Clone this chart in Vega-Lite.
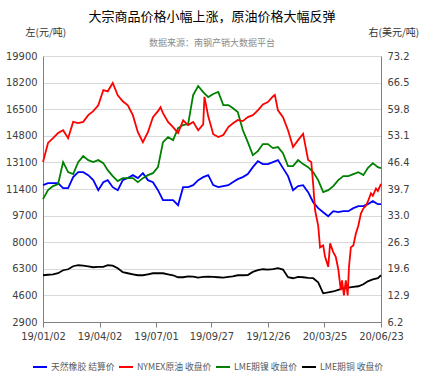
{
  "$schema": "https://vega.github.io/schema/vega-lite/v6.json",
  "width": 338,
  "height": 266,
  "autosize": {"type": "none"},
  "padding": {"left": 43, "top": 56, "right": 42, "bottom": 56},
  "background": "white",
  "title": {
    "text": "大宗商品价格小幅上涨，原油价格大幅反弹",
    "subtitle": "数据来源：南钢产销大数据平台",
    "font": "Noto Sans CJK SC",
    "fontSize": 13,
    "fontWeight": "normal",
    "color": "#000000",
    "subtitleFont": "Noto Sans CJK SC",
    "subtitleFontSize": 9,
    "subtitleColor": "#8c8c8c",
    "subtitlePadding": 15,
    "anchor": "middle",
    "offset": -21
  },
  "datasets": {
    "left": [
      {"date": "2019-01-02", "天然橡胶 结算价": 11646, "LME期镍 收盘价": 10750, "LME期铜 收盘价": 5888},
      {"date": "2019-01-10", "天然橡胶 结算价": 11774, "LME期镍 收盘价": 11326, "LME期铜 收盘价": 5920},
      {"date": "2019-01-18", "天然橡胶 结算价": 11774, "LME期镍 收盘价": 11582, "LME期铜 收盘价": 5950},
      {"date": "2019-01-26", "天然橡胶 结算价": 11774, "LME期镍 收盘价": 11710, "LME期铜 收盘价": 6016},
      {"date": "2019-02-03", "天然橡胶 结算价": 11454, "LME期镍 收盘价": 13118, "LME期铜 收盘价": 6208},
      {"date": "2019-02-11", "天然橡胶 结算价": 11454, "LME期镍 收盘价": 12478, "LME期铜 收盘价": 6270},
      {"date": "2019-02-19", "天然橡胶 结算价": 12158, "LME期镍 收盘价": 12350, "LME期铜 收盘价": 6464},
      {"date": "2019-02-27", "天然橡胶 结算价": 12478, "LME期镍 收盘价": 13118, "LME期铜 收盘价": 6528},
      {"date": "2019-03-07", "天然橡胶 结算价": 12478, "LME期镍 收盘价": 13502, "LME期铜 收盘价": 6500},
      {"date": "2019-03-15", "天然橡胶 结算价": 12286, "LME期镍 收盘价": 13246, "LME期铜 收盘价": 6450},
      {"date": "2019-03-23", "天然橡胶 结算价": 11966, "LME期镍 收盘价": 13118, "LME期铜 收盘价": 6400},
      {"date": "2019-03-31", "天然橡胶 结算价": 11326, "LME期镍 收盘价": 13246, "LME期铜 收盘价": 6420},
      {"date": "2019-04-08", "天然橡胶 结算价": 11838, "LME期镍 收盘价": 13054, "LME期铜 收盘价": 6420},
      {"date": "2019-04-15", "天然橡胶 结算价": 11966, "LME期镍 收盘价": 12606, "LME期铜 收盘价": 6528},
      {"date": "2019-04-23", "天然橡胶 结算价": 11518, "LME期镍 收盘价": 12222, "LME期铜 收盘价": 6500},
      {"date": "2019-05-01", "天然橡胶 结算价": 11326, "LME期镍 收盘价": 11902, "LME期铜 收盘价": 6336},
      {"date": "2019-05-09", "天然橡胶 结算价": 11966, "LME期镍 收盘价": 12094, "LME期铜 收盘价": 6080},
      {"date": "2019-05-17", "天然橡胶 结算价": 12100, "LME期镍 收盘价": 12094, "LME期铜 收盘价": 6016},
      {"date": "2019-05-25", "天然橡胶 结算价": 12286, "LME期镍 收盘价": 12094, "LME期铜 收盘价": 5950},
      {"date": "2019-06-02", "天然橡胶 结算价": 12100, "LME期镍 收盘价": 11838, "LME期铜 收盘价": 5888},
      {"date": "2019-06-10", "天然橡胶 结算价": 12414, "LME期镍 收盘价": 12094, "LME期铜 收盘价": 5888},
      {"date": "2019-06-18", "天然橡胶 结算价": 11966, "LME期镍 收盘价": 12286, "LME期铜 收盘价": 5950},
      {"date": "2019-06-26", "天然橡胶 结算价": 11838, "LME期镍 收盘价": 12414, "LME期铜 收盘价": 6016},
      {"date": "2019-07-04", "天然橡胶 结算价": 11326, "LME期镍 收盘价": 12798, "LME期铜 收盘价": 6016},
      {"date": "2019-07-12", "天然橡胶 结算价": 10686, "LME期镍 收盘价": 14398, "LME期铜 收盘价": 6016},
      {"date": "2019-07-20", "天然橡胶 结算价": 10686, "LME期镍 收盘价": 14718, "LME期铜 收盘价": 5950},
      {"date": "2019-07-28", "天然橡胶 结算价": 10686, "LME期镍 收盘价": 14526, "LME期铜 收盘价": 5888},
      {"date": "2019-08-05", "天然橡胶 结算价": 10366, "LME期镍 收盘价": 15294, "LME期铜 收盘价": 5760},
      {"date": "2019-08-13", "天然橡胶 结算价": 11518, "LME期镍 收盘价": 15486, "LME期铜 收盘价": 5760},
      {"date": "2019-08-21", "天然橡胶 结算价": 11518, "LME期镍 收盘价": 15550, "LME期铜 收盘价": 5820},
      {"date": "2019-08-29", "天然橡胶 结算价": 11646, "LME期镍 收盘价": 17406, "LME期铜 收盘价": 5800},
      {"date": "2019-09-06", "天然橡胶 结算价": 11966, "LME期镍 收盘价": 17982, "LME期铜 收盘价": 5740},
      {"date": "2019-09-14", "天然橡胶 结算价": 12158, "LME期镍 收盘价": 17598, "LME期铜 收盘价": 5780},
      {"date": "2019-09-22", "天然橡胶 结算价": 12286, "LME期镍 收盘价": 17278, "LME期铜 收盘价": 5800},
      {"date": "2019-09-30", "天然橡胶 结算价": 11646, "LME期镍 收盘价": 17470, "LME期铜 收盘价": 5780},
      {"date": "2019-10-08", "天然橡胶 结算价": 11518, "LME期镍 收盘价": 17598, "LME期铜 收盘价": 5760},
      {"date": "2019-10-16", "天然橡胶 结算价": 11582, "LME期镍 收盘价": 16766, "LME期铜 收盘价": 5740},
      {"date": "2019-10-24", "天然橡胶 结算价": 11646, "LME期镍 收盘价": 16766, "LME期铜 收盘价": 5780},
      {"date": "2019-10-31", "天然橡胶 结算价": 11838, "LME期镍 收盘价": 16574, "LME期铜 收盘价": 5820},
      {"date": "2019-11-08", "天然橡胶 结算价": 12030, "LME期镍 收盘价": 16318, "LME期铜 收盘价": 5888},
      {"date": "2019-11-16", "天然橡胶 结算价": 12158, "LME期镍 收盘价": 15166, "LME期铜 收盘价": 5888},
      {"date": "2019-11-24", "天然橡胶 结算价": 12350, "LME期镍 收盘价": 14398, "LME期铜 收盘价": 5900},
      {"date": "2019-12-02", "天然橡胶 结算价": 12798, "LME期镍 收盘价": 13566, "LME期铜 收盘价": 6100},
      {"date": "2019-12-10", "天然橡胶 结算价": 13182, "LME期镍 收盘价": 13822, "LME期铜 收盘价": 6208},
      {"date": "2019-12-18", "天然橡胶 结算价": 12990, "LME期镍 收盘价": 14270, "LME期铜 收盘价": 6272},
      {"date": "2019-12-26", "天然橡胶 结算价": 12990, "LME期镍 收盘价": 14270, "LME期铜 收盘价": 6250},
      {"date": "2020-01-03", "天然橡胶 结算价": 13118, "LME期镍 收盘价": 14014, "LME期铜 收盘价": 6280},
      {"date": "2020-01-11", "天然橡胶 结算价": 13246, "LME期镍 收盘价": 14078, "LME期铜 收盘价": 6336},
      {"date": "2020-01-19", "天然橡胶 结算价": 12734, "LME期镍 收盘价": 13694, "LME期铜 收盘价": 6250},
      {"date": "2020-01-27", "天然橡胶 结算价": 12222, "LME期镍 收盘价": 12862, "LME期铜 收盘价": 5760},
      {"date": "2020-02-04", "天然橡胶 结算价": 11326, "LME期镍 收盘价": 12862, "LME期铜 收盘价": 5696},
      {"date": "2020-02-12", "天然橡胶 结算价": 11582, "LME期镍 收盘价": 13246, "LME期铜 收盘价": 5780},
      {"date": "2020-02-20", "天然橡胶 结算价": 11646, "LME期镍 收盘价": 12990, "LME期铜 收盘价": 5760},
      {"date": "2020-02-28", "天然橡胶 结算价": 11198, "LME期镍 收盘价": 12798, "LME期铜 收盘价": 5720},
      {"date": "2020-03-07", "天然橡胶 结算价": 10558, "LME期镍 收盘价": 12478, "LME期铜 收盘价": 5700},
      {"date": "2020-03-15", "天然橡胶 结算价": 10174, "LME期镍 收盘价": 11966, "LME期铜 收盘价": 5440},
      {"date": "2020-03-23", "天然橡胶 结算价": 9918, "LME期镍 收盘价": 11198, "LME期铜 收盘价": 4736},
      {"date": "2020-03-31", "天然橡胶 结算价": 9662, "LME期镍 收盘价": 11326, "LME期铜 收盘价": 4800},
      {"date": "2020-04-08", "天然橡胶 结算价": 9982, "LME期镍 收盘价": 11582, "LME期铜 收盘价": 4850},
      {"date": "2020-04-16", "天然橡胶 结算价": 9918, "LME期镍 收盘价": 11966, "LME期铜 收盘价": 4950},
      {"date": "2020-04-24", "天然橡胶 结算价": 9982, "LME期镍 收盘价": 12222, "LME期铜 收盘价": 5056},
      {"date": "2020-05-02", "天然橡胶 结算价": 9982, "LME期镍 收盘价": 12222, "LME期铜 收盘价": 5100},
      {"date": "2020-05-10", "天然橡胶 结算价": 10174, "LME期镍 收盘价": 12350, "LME期铜 收盘价": 5150},
      {"date": "2020-05-18", "天然橡胶 结算价": 10302, "LME期镍 收盘价": 12478, "LME期铜 收盘价": 5184},
      {"date": "2020-05-26", "天然橡胶 结算价": 10302, "LME期镍 收盘价": 12286, "LME期铜 收盘价": 5312},
      {"date": "2020-06-02", "天然橡胶 结算价": 10430, "LME期镍 收盘价": 12734, "LME期铜 收盘价": 5500},
      {"date": "2020-06-10", "天然橡胶 结算价": 10622, "LME期镍 收盘价": 13054, "LME期铜 收盘价": 5620},
      {"date": "2020-06-18", "天然橡胶 结算价": 10430, "LME期镍 收盘价": 12798, "LME期铜 收盘价": 5700},
      {"date": "2020-06-23", "天然橡胶 结算价": 10430, "LME期镍 收盘价": 12734, "LME期铜 收盘价": 5888}
    ],
    "oil": [
      {"date": "2019-01-02", "NYMEX原油 收盘价": 46.5},
      {"date": "2019-01-10", "NYMEX原油 收盘价": 51.3},
      {"date": "2019-01-18", "NYMEX原油 收盘价": 52.5},
      {"date": "2019-01-26", "NYMEX原油 收盘价": 53.8},
      {"date": "2019-02-03", "NYMEX原油 收盘价": 54.5},
      {"date": "2019-02-11", "NYMEX原油 收盘价": 52.5},
      {"date": "2019-02-19", "NYMEX原油 收盘价": 56.6},
      {"date": "2019-02-27", "NYMEX原油 收盘价": 56.3},
      {"date": "2019-03-07", "NYMEX原油 收盘价": 56.6},
      {"date": "2019-03-15", "NYMEX原油 收盘价": 58.3},
      {"date": "2019-03-23", "NYMEX原油 收盘价": 59.3},
      {"date": "2019-03-31", "NYMEX原油 收盘价": 60.8},
      {"date": "2019-04-08", "NYMEX原油 收盘价": 64.6},
      {"date": "2019-04-15", "NYMEX原油 收盘价": 64.3},
      {"date": "2019-04-23", "NYMEX原油 收盘价": 66.4},
      {"date": "2019-05-01", "NYMEX原油 收盘价": 63.3},
      {"date": "2019-05-09", "NYMEX原油 收盘价": 61.8},
      {"date": "2019-05-17", "NYMEX原油 收盘价": 60.8},
      {"date": "2019-05-25", "NYMEX原油 收盘价": 58.3},
      {"date": "2019-06-02", "NYMEX原油 收盘价": 54.0},
      {"date": "2019-06-10", "NYMEX原油 收盘价": 51.5},
      {"date": "2019-06-18", "NYMEX原油 收盘价": 54.0},
      {"date": "2019-06-26", "NYMEX原油 收盘价": 57.8},
      {"date": "2019-07-04", "NYMEX原油 收盘价": 59.3},
      {"date": "2019-07-08", "NYMEX原油 收盘价": 60.3},
      {"date": "2019-07-12", "NYMEX原油 收盘价": 58.8},
      {"date": "2019-07-20", "NYMEX原油 收盘价": 56.6},
      {"date": "2019-07-28", "NYMEX原油 收盘价": 55.3},
      {"date": "2019-08-05", "NYMEX原油 收盘价": 53.8},
      {"date": "2019-08-13", "NYMEX原油 收盘价": 57.0},
      {"date": "2019-08-21", "NYMEX原油 收盘价": 55.8},
      {"date": "2019-08-29", "NYMEX原油 收盘价": 56.6},
      {"date": "2019-09-06", "NYMEX原油 收盘价": 54.5},
      {"date": "2019-09-14", "NYMEX原油 收盘价": 56.0},
      {"date": "2019-09-16", "NYMEX原油 收盘价": 62.9},
      {"date": "2019-09-22", "NYMEX原油 收盘价": 58.0},
      {"date": "2019-09-30", "NYMEX原油 收盘价": 53.5},
      {"date": "2019-10-08", "NYMEX原油 收盘价": 52.8},
      {"date": "2019-10-16", "NYMEX原油 收盘价": 53.3},
      {"date": "2019-10-24", "NYMEX原油 收盘价": 55.3},
      {"date": "2019-10-31", "NYMEX原油 收盘价": 56.2},
      {"date": "2019-11-08", "NYMEX原油 收盘价": 57.1},
      {"date": "2019-11-16", "NYMEX原油 收盘价": 56.8},
      {"date": "2019-11-24", "NYMEX原油 收盘价": 57.8},
      {"date": "2019-12-02", "NYMEX原油 收盘价": 58.3},
      {"date": "2019-12-10", "NYMEX原油 收盘价": 59.5},
      {"date": "2019-12-18", "NYMEX原油 收盘价": 61.0},
      {"date": "2019-12-26", "NYMEX原油 收盘价": 61.6},
      {"date": "2020-01-03", "NYMEX原油 收盘价": 63.0},
      {"date": "2020-01-06", "NYMEX原油 收盘价": 63.4},
      {"date": "2020-01-11", "NYMEX原油 收盘价": 59.5},
      {"date": "2020-01-19", "NYMEX原油 收盘价": 57.8},
      {"date": "2020-01-27", "NYMEX原油 收盘价": 54.5},
      {"date": "2020-02-04", "NYMEX原油 收盘价": 50.3},
      {"date": "2020-02-12", "NYMEX原油 收盘价": 52.0},
      {"date": "2020-02-20", "NYMEX原油 收盘价": 53.6},
      {"date": "2020-02-28", "NYMEX原油 收盘价": 47.0},
      {"date": "2020-03-04", "NYMEX原油 收盘价": 46.5},
      {"date": "2020-03-07", "NYMEX原油 收盘价": 41.0},
      {"date": "2020-03-10", "NYMEX原油 收盘价": 34.4},
      {"date": "2020-03-15", "NYMEX原油 收盘价": 30.5},
      {"date": "2020-03-18", "NYMEX原油 收盘价": 25.0},
      {"date": "2020-03-23", "NYMEX原油 收盘价": 25.5},
      {"date": "2020-03-26", "NYMEX原油 收盘价": 22.6},
      {"date": "2020-03-31", "NYMEX原油 收盘价": 20.1},
      {"date": "2020-04-03", "NYMEX原油 收盘价": 26.0},
      {"date": "2020-04-08", "NYMEX原油 收盘价": 23.8},
      {"date": "2020-04-12", "NYMEX原油 收盘价": 22.6},
      {"date": "2020-04-16", "NYMEX原油 收盘价": 19.5},
      {"date": "2020-04-20", "NYMEX原油 收盘价": 14.2},
      {"date": "2020-04-22", "NYMEX原油 收盘价": 16.7},
      {"date": "2020-04-25", "NYMEX原油 收盘价": 12.9},
      {"date": "2020-04-28", "NYMEX原油 收盘价": 16.7},
      {"date": "2020-05-01", "NYMEX原油 收盘价": 12.9},
      {"date": "2020-05-03", "NYMEX原油 收盘价": 20.0},
      {"date": "2020-05-06", "NYMEX原油 收盘价": 25.0},
      {"date": "2020-05-10", "NYMEX原油 收盘价": 25.5},
      {"date": "2020-05-14", "NYMEX原油 收盘价": 28.5},
      {"date": "2020-05-18", "NYMEX原油 收盘价": 30.5},
      {"date": "2020-05-22", "NYMEX原油 收盘价": 33.5},
      {"date": "2020-05-26", "NYMEX原油 收盘价": 34.8},
      {"date": "2020-05-30", "NYMEX原油 收盘价": 35.5},
      {"date": "2020-06-02", "NYMEX原油 收盘价": 36.5},
      {"date": "2020-06-07", "NYMEX原油 收盘价": 38.6},
      {"date": "2020-06-10", "NYMEX原油 收盘价": 38.0},
      {"date": "2020-06-15", "NYMEX原油 收盘价": 39.8},
      {"date": "2020-06-18", "NYMEX原油 收盘价": 39.2},
      {"date": "2020-06-23", "NYMEX原油 收盘价": 41.0}
    ]
  },
  "encoding": {
    "x": {
      "field": "date",
      "type": "temporal",
      "scale": {
        "type": "utc",
        "domain": [
          {"year": 2019, "month": 1, "date": 2, "utc": true},
          {"year": 2020, "month": 6, "date": 23, "utc": true}
        ]
      },
      "axis": {
        "title": null,
        "values": [
          {"year": 2019, "month": 1, "date": 2, "utc": true},
          {"year": 2019, "month": 4, "date": 2, "utc": true},
          {"year": 2019, "month": 7, "date": 1, "utc": true},
          {"year": 2019, "month": 9, "date": 27, "utc": true},
          {"year": 2019, "month": 12, "date": 26, "utc": true},
          {"year": 2020, "month": 3, "date": 25, "utc": true},
          {"year": 2020, "month": 6, "date": 23, "utc": true}
        ],
        "format": "%y/%m/%d",
        "grid": false,
        "ticks": true,
        "tickSize": 5,
        "tickColor": "#808080",
        "domainColor": "#808080",
        "labelFont": "Liberation Sans Narrow, DejaVu Sans Condensed, sans-serif",
        "labelFontSize": 11,
        "labelColor": "#404040",
        "labelPadding": 3,
        "labelFlush": false,
        "labelOverlap": false
      }
    },
    "color": {
      "field": "s",
      "type": "nominal",
      "scale": {
        "domain": ["天然橡胶 结算价", "NYMEX原油 收盘价", "LME期镍 收盘价", "LME期铜 收盘价"],
        "range": ["#0000ff", "#ff0000", "#008000", "#000000"]
      },
      "legend": {
        "title": null,
        "orient": "none",
        "legendX": -11,
        "legendY": 303,
        "direction": "horizontal",
        "columns": 4,
        "gridAlign": "none",
        "columnPadding": 0
      }
    }
  },
  "layer": [
    {
      "data": {"name": "left"},
      "transform": [
        {"fold": ["天然橡胶 结算价", "LME期镍 收盘价", "LME期铜 收盘价"], "as": ["s", "v"]}
      ],
      "mark": {"type": "line", "strokeWidth": 1.8},
      "encoding": {
        "y": {
          "field": "v",
          "type": "quantitative",
          "scale": {"domain": [2900, 19900], "nice": false, "zero": false},
          "axis": {
            "orient": "left",
            "values": [2900, 4600, 6300, 8000, 9700, 11400, 13100, 14800, 16500, 18200, 19900],
            "format": "d",
            "title": "左(元/吨)",
            "titleAngle": 0,
            "titleAlign": "left",
            "titleBaseline": "middle",
            "titleX": -18,
            "titleY": -24,
            "titleFont": "Noto Sans CJK SC",
            "titleFontSize": 10,
            "titleFontWeight": "normal",
            "titleColor": "#333333",
            "grid": true,
            "gridColor": "#d9d9d9",
            "ticks": false,
            "domainColor": "#808080",
            "labelFont": "Liberation Sans Narrow, DejaVu Sans Condensed, sans-serif",
            "labelFontSize": 11,
            "labelColor": "#404040",
            "labelPadding": 6
          }
        }
      }
    },
    {
      "data": {"name": "oil"},
      "transform": [
        {"fold": ["NYMEX原油 收盘价"], "as": ["s", "v"]}
      ],
      "mark": {"type": "line", "strokeWidth": 1.8},
      "encoding": {
        "y": {
          "field": "v",
          "type": "quantitative",
          "scale": {"domain": [6.2, 73.2], "nice": false, "zero": false},
          "axis": {
            "orient": "right",
            "values": [6.2, 12.9, 19.6, 26.3, 33.0, 39.7, 46.4, 53.1, 59.8, 66.5, 73.2],
            "format": ".1f",
            "title": "右(美元/吨)",
            "titleAngle": 0,
            "titleAlign": "left",
            "titleBaseline": "middle",
            "titleX": -13,
            "titleY": -24,
            "titleFont": "Noto Sans CJK SC",
            "titleFontSize": 10,
            "titleFontWeight": "normal",
            "titleColor": "#333333",
            "grid": false,
            "ticks": false,
            "domainColor": "#808080",
            "labelFont": "Liberation Sans Narrow, DejaVu Sans Condensed, sans-serif",
            "labelFontSize": 11,
            "labelColor": "#404040",
            "labelPadding": 6
          }
        }
      }
    }
  ],
  "resolve": {"scale": {"y": "independent"}},
  "config": {
    "view": {"stroke": null},
    "legend": {
      "symbolType": "stroke",
      "symbolSize": 196,
      "symbolStrokeWidth": 2,
      "labelFont": "Noto Sans CJK SC",
      "labelFontSize": 8.8,
      "labelColor": "#595959",
      "labelLimit": 200,
      "labelOffset": 3
    }
  }
}
